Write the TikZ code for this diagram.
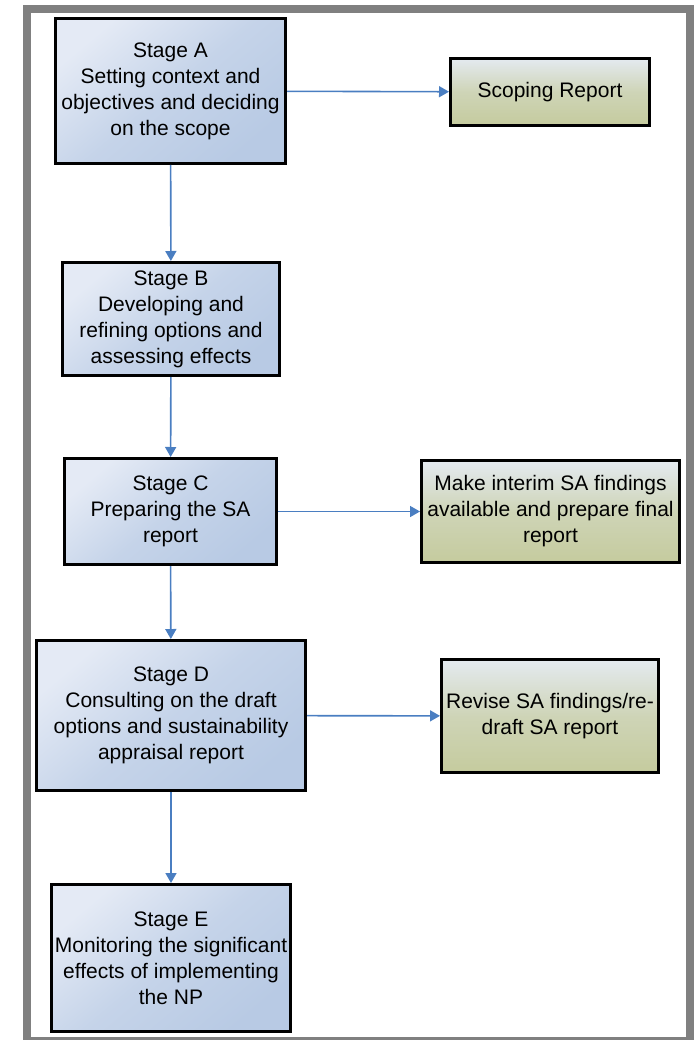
\documentclass[tikz,border=0pt]{standalone}
\usepackage{fontspec}
\setmainfont{Liberation Sans}
\usetikzlibrary{arrows.meta, positioning}

\definecolor{stagelight}{RGB}{228,234,245}
\definecolor{stagedark}{RGB}{184,202,228}
\definecolor{outlight}{RGB}{228,234,240}
\definecolor{outdark}{RGB}{197,203,158}
\definecolor{flowblue}{RGB}{74,126,193}
\definecolor{framegray}{RGB}{128,128,128}

\tikzset{
    stagebox/.style={draw=black, line width=3pt, inner sep=0pt, align=center,
        shading=axis, top color=stagelight, bottom color=stagedark,
        middle color=stagedark!70!stagelight, shading angle=40,
        font=\fontsize{21}{26}\selectfont},
    outbox/.style={stagebox, top color=outlight, bottom color=outdark,
        middle color=outdark!70!outlight},
    flow/.style={draw=flowblue, line width=1.6pt, -{Triangle[width=11pt,length=10pt]}}
}

\begin{document}
\begin{tikzpicture}[x=1pt, y=-1pt]
    \useasboundingbox (0,0) rectangle (693,1040);

    % Outer frame
    \draw[framegray, line width=8pt] (26.5,9) rectangle (690,1041);

    % Stages (left column)
    \node[stagebox, minimum width=230pt, minimum height=145pt] (stageA) at (170.5,91)
        {Stage A\\Setting context and\\objectives and deciding\\on the scope};
    \node[stagebox, minimum width=217pt, minimum height=113pt] (stageB) at (171,319)
        {Stage B\\Developing and\\refining options and\\assessing effects};
    \node[stagebox, minimum width=212pt, minimum height=106pt] (stageC) at (170.5,511.5)
        {Stage C\\Preparing the SA\\report};
    \node[stagebox, minimum width=269pt, minimum height=150pt] (stageD) at (171,715.5)
        {Stage D\\Consulting on the draft\\options and sustainability\\appraisal report};
    \node[stagebox, minimum width=239pt, minimum height=147pt] (stageE) at (171,958)
        {Stage E\\Monitoring the significant\\effects of implementing\\the NP};

    % Outputs (right column)
    \node[outbox, minimum width=199pt, minimum height=67pt] (scoping) at (550,92)
        {Scoping Report};
    \node[outbox, minimum width=258pt, minimum height=102pt] (interim) at (550.5,511.5)
        {Make interim SA findings\\available and prepare final\\report};
    \node[outbox, minimum width=217pt, minimum height=113pt] (revise) at (550,716)
        {Revise SA findings/re-\\draft SA report};

    % Connectors
    \draw[flow] (stageA) -- (stageB);
    \draw[flow] (stageB) -- (stageC);
    \draw[flow] (stageC) -- (stageD);
    \draw[flow] (stageD) -- (stageE);
    \draw[flow] (stageA) -- (scoping);
    \draw[flow] (stageC) -- (interim);
    \draw[flow] (stageD) -- (revise);
\end{tikzpicture}
\end{document}
